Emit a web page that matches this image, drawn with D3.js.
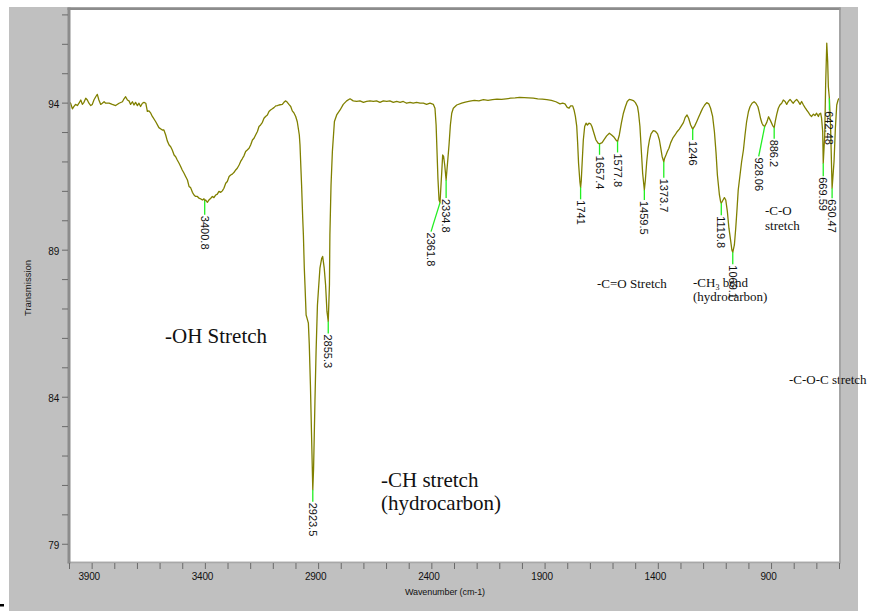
<!DOCTYPE html>
<html>
<head>
<meta charset="utf-8">
<script src="https://cdn.jsdelivr.net/npm/d3@7"></script>
<style>
  html, body { margin: 0; padding: 0; background: #fff; }
  svg { display: block; }
</style>
</head>
<body>
<svg id="chart" width="869" height="611"></svg>
<script>
// FTIR spectrum: wavenumber (cm-1) and % transmission
const wavenumbers = [
  4000, 3993, 3985, 3978, 3971, 3963, 3956, 3948, 3941, 3934, 3926, 3919, 3912, 3904, 3897, 3890,
  3882, 3875, 3868, 3860, 3853, 3845, 3838, 3823, 3809, 3794, 3779, 3764, 3757, 3750, 3742, 3735,
  3728, 3720, 3713, 3706, 3698, 3691, 3684, 3676, 3669, 3661, 3654, 3647, 3639, 3632, 3617, 3603,
  3588, 3581, 3573, 3566, 3558, 3551, 3544, 3536, 3529, 3522, 3514, 3507, 3500, 3492, 3485, 3477,
  3470, 3463, 3455, 3448, 3441, 3433, 3426, 3419, 3411, 3404, 3400.8, 3397, 3389, 3382, 3374, 3367,
  3360, 3352, 3345, 3338, 3330, 3323, 3316, 3308, 3301, 3293, 3286, 3279, 3271, 3264, 3257, 3249,
  3242, 3235, 3227, 3220, 3213, 3205, 3198, 3190, 3183, 3176, 3168, 3161, 3154, 3146, 3139, 3132,
  3124, 3117, 3110, 3102, 3095, 3087, 3080, 3073, 3058, 3051, 3043, 3036, 3029, 3021, 3014, 3006,
  2999, 2992, 2983, 2980, 2976, 2973, 2968, 2965, 2961, 2958, 2953, 2949, 2943, 2939, 2934, 2929,
  2923.5, 2920, 2917, 2914, 2909, 2903, 2899, 2892, 2884, 2880, 2873, 2867, 2861, 2855.3, 2850, 2848,
  2843, 2837, 2828, 2818, 2803, 2789, 2774, 2759, 2745, 2730, 2715, 2700, 2686, 2671, 2656, 2642,
  2627, 2612, 2597, 2583, 2568, 2553, 2538, 2524, 2509, 2494, 2480, 2465, 2450, 2435, 2421, 2406,
  2391, 2384, 2379, 2375, 2371, 2366, 2361.8, 2359, 2354, 2350, 2346, 2341, 2334.8, 2328, 2322, 2316,
  2310, 2303, 2288, 2266, 2250, 2230, 2210, 2190, 2170, 2150, 2130, 2110, 2090, 2070, 2050, 2030,
  2010, 1990, 1970, 1950, 1930, 1910, 1890, 1870, 1850, 1832, 1820, 1810, 1800, 1792, 1785, 1776,
  1770, 1764, 1758, 1754, 1750, 1744, 1741, 1738, 1735, 1729, 1723, 1717, 1711, 1704, 1697, 1691,
  1682, 1673, 1664, 1657.4, 1646, 1638, 1626, 1614, 1604, 1593, 1585, 1577.8, 1570, 1561, 1552, 1543,
  1535, 1526, 1517, 1508, 1499, 1490, 1485, 1479, 1473, 1467, 1459.5, 1455, 1449, 1443, 1437, 1430,
  1420, 1410, 1401, 1393, 1387, 1381, 1373.7, 1370, 1364, 1358, 1351, 1343, 1334, 1324, 1314, 1305,
  1296, 1287, 1279, 1271, 1264, 1255, 1246, 1237, 1228, 1220, 1211, 1202, 1193, 1184, 1175, 1167,
  1158, 1150, 1143, 1137, 1128, 1123, 1119.8, 1112, 1106, 1100, 1093, 1086, 1078, 1073, 1069.1, 1062,
  1056, 1050, 1045, 1037, 1030, 1022, 1015, 1008, 1000, 993, 984, 975, 967, 958, 952, 946,
  940, 934, 928.06, 919, 911, 902, 893, 886.2, 881, 875, 868, 861, 853, 846, 838, 831,
  824, 816, 809, 802, 794, 787, 780, 772, 765, 757, 750, 743, 735, 728, 721, 713,
  706, 699, 691, 687, 681, 677, 672, 669.59, 663, 659, 654, 650, 647, 642.48, 637, 630.47,
  622, 616, 610, 604, 600
];
const transmission = [
  94.03, 93.98, 93.79, 93.87, 93.94, 93.90, 93.98, 94.09, 93.94, 94.01, 94.15, 94.09, 93.98, 93.90, 93.94, 94.09,
  94.20, 94.28, 94.09, 93.94, 93.98, 94.03, 93.98, 93.98, 93.94, 93.90, 93.98, 94.03, 94.13, 94.20, 94.09, 94.06,
  93.94, 94.03, 93.92, 94.01, 93.90, 93.98, 93.87, 93.98, 94.01, 93.98, 93.70, 93.72, 93.64, 93.53, 93.35, 93.15,
  93.07, 93.07, 92.90, 92.70, 92.56, 92.50, 92.39, 92.22, 92.16, 92.05, 91.94, 91.83, 91.71, 91.60, 91.49, 91.37,
  91.15, 91.11, 90.95, 90.86, 90.81, 90.81, 90.75, 90.73, 90.69, 90.73, 90.66, 90.69, 90.61, 90.69, 90.75, 90.81,
  90.77, 90.86, 90.89, 90.98, 90.95, 91.00, 91.09, 91.26, 91.32, 91.49, 91.54, 91.57, 91.63, 91.71, 91.77, 91.88,
  92.00, 92.09, 92.20, 92.34, 92.39, 92.45, 92.56, 92.73, 92.79, 92.90, 93.02, 93.19, 93.24, 93.33, 93.47, 93.53,
  93.58, 93.70, 93.75, 93.79, 93.83, 93.89, 93.90, 93.92, 93.94, 94.01, 94.06, 94.01, 93.94, 93.87, 93.72, 93.64,
  93.53, 93.35, 92.90, 92.56, 91.77, 91.20, 90.07, 89.50, 88.37, 87.80, 86.78, 86.67, 86.50, 85.77, 84.40, 82.70,
  80.84, 81.57, 82.70, 83.84, 85.54, 87.12, 87.58, 88.37, 88.71, 88.77, 88.37, 87.80, 86.90, 86.56, 87.80, 89.50,
  91.20, 92.34, 93.36, 93.58, 93.75, 93.94, 94.06, 94.13, 94.06, 94.04, 94.06, 94.01, 94.04, 94.06, 94.04, 94.06,
  94.01, 94.06, 94.04, 94.06, 94.01, 94.04, 94.01, 94.04, 93.98, 94.01, 93.98, 94.01, 93.98, 93.98, 93.94, 93.98,
  93.94, 93.81, 93.24, 92.34, 91.43, 90.69, 90.60, 90.98, 91.66, 92.22, 92.17, 91.88, 91.37, 92.00, 92.56, 93.24,
  93.64, 93.81, 93.92, 93.98, 94.02, 94.05, 94.08, 94.06, 94.10, 94.08, 94.10, 94.12, 94.11, 94.13, 94.15, 94.16,
  94.18, 94.17, 94.16, 94.15, 94.13, 94.12, 94.10, 94.08, 94.03, 93.96, 93.98, 93.96, 93.84, 93.81, 93.89, 93.89,
  93.75, 93.53, 93.19, 92.62, 91.94, 91.30, 91.12, 91.35, 91.83, 92.73, 93.19, 93.30, 93.24, 93.30, 93.28, 93.19,
  92.96, 92.73, 92.62, 92.60, 92.64, 92.73, 92.87, 92.96, 92.90, 92.82, 92.73, 92.68, 92.90, 93.30, 93.64, 93.87,
  94.04, 94.11, 94.09, 94.07, 94.00, 93.87, 93.64, 93.19, 92.39, 91.60, 91.03, 91.37, 91.99, 92.45, 92.73, 92.94,
  93.05, 93.02, 92.94, 92.73, 92.45, 92.17, 91.99, 92.11, 92.22, 92.34, 92.45, 92.64, 92.79, 92.90, 93.02, 93.10,
  93.21, 93.32, 93.50, 93.58, 93.47, 93.24, 93.10, 93.21, 93.36, 93.50, 93.66, 93.81, 93.92, 94.00, 93.96, 93.81,
  93.53, 93.00, 92.30, 91.54, 90.86, 90.64, 90.58, 90.69, 90.77, 90.69, 90.30, 89.73, 89.28, 88.99, 88.91, 89.16,
  89.73, 90.41, 91.03, 91.54, 91.99, 92.39, 92.90, 93.35, 93.69, 93.86, 93.98, 94.03, 93.98, 93.86, 93.67, 93.45,
  93.30, 93.22, 93.19, 93.33, 93.52, 93.38, 93.22, 93.15, 93.38, 93.60, 93.81, 93.92, 93.98, 94.09, 94.04, 93.94,
  94.04, 94.11, 94.04, 93.98, 94.06, 94.11, 94.04, 93.94, 94.04, 93.92, 93.83, 93.75, 93.67, 93.58, 93.53, 93.61,
  93.56, 93.64, 93.53, 93.61, 93.64, 93.47, 93.02, 91.94, 92.90, 94.60, 96.02, 95.40, 94.54, 94.15, 93.13, 91.09,
  91.99, 93.13, 93.92, 94.09, 94.15
];

// Picked peaks (cm-1)
const peakWavenumbers = [3400.8, 2923.5, 2855.3, 2361.8, 2334.8, 1741, 1657.4, 1577.8, 1459.5,
  1373.7, 1246, 1119.8, 1069.1, 928.06, 886.2, 669.59, 642.48, 630.47];
// Leader line run from each peak to its label, in px [dx, dy]
const leaderRuns = [[0, 14], [0, 12], [0, 12], [-9, 29], [0, 18], [0, 12], [0, 11], [0, 11], [0, 10],
  [0, 16], [0, 11], [0, 12], [0, 12], [-6, 30], [0, 11], [0, 13], [0, 12], [0, 10]];

// Axis ticks
const xTicks = d3.range(600, 4001, 100);
const xTickLabels = [3900, 3400, 2900, 2400, 1900, 1400, 900];
const yTicks = d3.range(79, 98, 1);
const yTickLabels = [94, 89, 84, 79];

// Band assignments
const bandNotes = [
  { lines: ["-OH Stretch"], x: 165, y: 343, size: 21 },
  { lines: ["-CH stretch", "(hydrocarbon)"], x: 381, y: 487, size: 21, lead: 23 },
  { lines: ["-C=O Stretch"], x: 597, y: 287.5, size: 13 },
  { lines: ["-CH|3| bend", "(hydrocarbon)"], x: 693, y: 286.5, size: 13, lead: 14.5 },
  { lines: ["-C-O", "stretch"], x: 765, y: 215, size: 13, lead: 15 },
  { lines: ["-C-O-C stretch"], x: 789, y: 384, size: 13 }
];

const svg = d3.select("#chart");
const W = 869, H = 611;
const plot = { left: 69, right: 839, top: 10, bottom: 561.7 };

const x = d3.scaleLinear().domain([4000, 600]).range([plot.left, plot.right]);
const y = d3.scaleLinear().domain([78.39, 97.15]).range([plot.bottom, plot.top]);

// window background
svg.append("rect").attr("x", 9).attr("y", 7).attr("width", 849).attr("height", H - 7).attr("fill", "#c0c0c0");
svg.append("rect").attr("x", 0).attr("y", 604).attr("width", 4).attr("height", 2.5).attr("fill", "#000");

// plotting area
svg.append("rect")
  .attr("x", plot.left).attr("y", plot.top)
  .attr("width", plot.right - plot.left).attr("height", plot.bottom - plot.top)
  .attr("fill", "#fff");

svg.append("clipPath").attr("id", "plotClip")
  .append("rect")
  .attr("x", plot.left).attr("y", plot.top)
  .attr("width", plot.right - plot.left).attr("height", plot.bottom - plot.top);

const spectrum = wavenumbers.map((w, i) => ({ w, t: transmission[i] }));

const line = d3.line().x(d => x(d.w)).y(d => y(d.t));

svg.append("path")
  .datum(spectrum)
  .attr("clip-path", "url(#plotClip)")
  .attr("fill", "none")
  .attr("stroke", "#808000")
  .attr("stroke-width", 1.3)
  .attr("stroke-linejoin", "round")
  .attr("d", line);

// peak leaders and labels
const peaks = peakWavenumbers.map((w, i) => {
  const idx = wavenumbers.indexOf(w);
  return { w, t: transmission[idx], run: leaderRuns[i] };
});

const peakG = svg.append("g");
peaks.forEach(p => {
  const px = x(p.w), py = y(p.t);
  const ex = px + p.run[0], ey = py + p.run[1];
  peakG.append("line")
    .attr("x1", px).attr("y1", py).attr("x2", ex).attr("y2", ey)
    .attr("stroke", "#22ee22").attr("stroke-width", 1.3);
  peakG.append("text")
    .attr("transform", `translate(${ex},${ey + 1}) rotate(90)`)
    .attr("dy", "0.36em")
    .attr("font-family", "'Liberation Sans', Arial, sans-serif")
    .attr("font-size", 11)
    .attr("fill", "#111")
    .text(String(p.w));
});

// band notes
const notesG = svg.append("g")
  .attr("font-family", "'Liberation Serif', 'Times New Roman', serif")
  .attr("fill", "#111");
bandNotes.forEach(n => {
  n.lines.forEach((ln, k) => {
    const t = notesG.append("text")
      .attr("x", n.x).attr("y", n.y + k * (n.lead || 0))
      .attr("font-size", n.size);
    const parts = ln.split("|");
    parts.forEach((part, j) => {
      if (j % 2 === 1) {
        t.append("tspan").attr("font-size", n.size * 0.62).attr("dy", 3).text(part);
      } else {
        const s = t.append("tspan").text(part);
        if (j > 0) s.attr("dy", -3);
      }
    });
  });
});

// frame
svg.append("rect").attr("x", 67.5).attr("y", 7.5).attr("width", 773).attr("height", 2.5).attr("fill", "#8c8c8c");
svg.append("rect").attr("x", 839.3).attr("y", 7.5).attr("width", 1.4).attr("height", 556).attr("fill", "#999");
svg.append("rect").attr("x", 67.5).attr("y", 561.7).attr("width", 773).attr("height", 1.6).attr("fill", "#a8a8a8");
svg.append("rect").attr("x", 67.5).attr("y", 7.5).attr("width", 3).attr("height", 556).attr("fill", "#8c8c8c");

// x axis
const xAxis = d3.axisBottom(x)
  .tickValues(xTicks)
  .tickSize(6)
  .tickPadding(4)
  .tickFormat(d => xTickLabels.includes(d) ? String(d) : "");
const gx = svg.append("g").attr("transform", "translate(0,563)").call(xAxis);
gx.select(".domain").remove();
gx.selectAll(".tick line").attr("stroke", "#6a6a6a");
gx.selectAll(".tick text")
  .attr("dx", -3)
  .attr("font-family", "'Liberation Sans', Arial, sans-serif")
  .attr("font-size", 10)
  .attr("letter-spacing", -0.2)
  .attr("fill", "#111");

// y axis
const yAxis = d3.axisLeft(y)
  .tickValues(yTicks)
  .tickSize(6)
  .tickPadding(3)
  .tickFormat(d => yTickLabels.includes(d) ? String(d) : "");
const gy = svg.append("g").attr("transform", "translate(68,0)").call(yAxis);
gy.select(".domain").remove();
gy.selectAll(".tick line").attr("stroke", "#6a6a6a");
gy.selectAll(".tick text")
  .attr("dy", "0.45em")
  .attr("font-family", "'Liberation Sans', Arial, sans-serif")
  .attr("font-size", 10)
  .attr("letter-spacing", -0.2)
  .attr("fill", "#111");

// axis titles
svg.append("text")
  .attr("x", 445).attr("y", 595)
  .attr("text-anchor", "middle")
  .attr("font-family", "'Liberation Sans', Arial, sans-serif")
  .attr("font-size", 9)
  .attr("letter-spacing", -0.1)
  .attr("fill", "#111")
  .text("Wavenumber (cm-1)");

svg.append("text")
  .attr("transform", "translate(31,288) rotate(-90)")
  .attr("text-anchor", "middle")
  .attr("font-family", "'Liberation Sans', Arial, sans-serif")
  .attr("font-size", 9.5)
  .attr("fill", "#111")
  .text("Transmission");
</script>
</body>
</html>
